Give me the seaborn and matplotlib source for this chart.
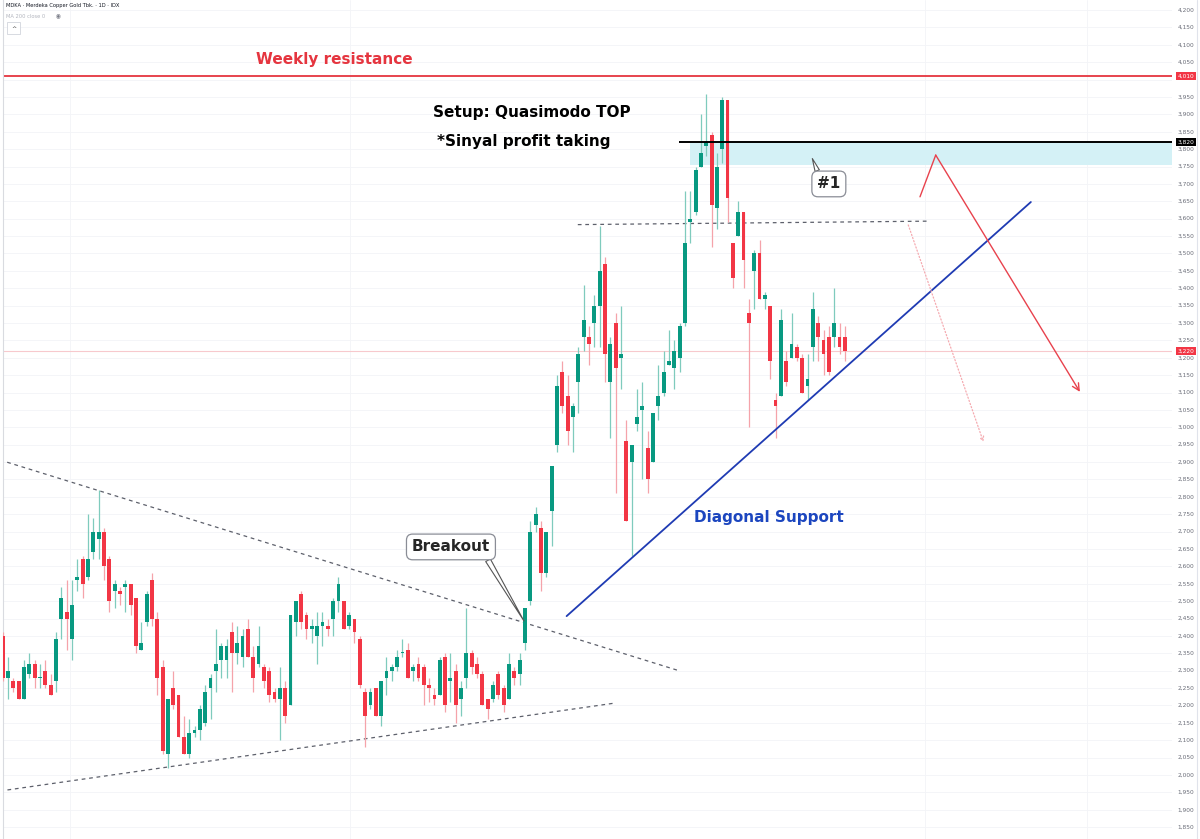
import numpy as np
import pandas as pd
import matplotlib
matplotlib.use("Agg")
import matplotlib.pyplot as plt
import seaborn as sns
from matplotlib.lines import Line2D
from matplotlib.patches import Rectangle

sns.set_style("white")
plt.rcParams['font.family'] = ['DejaVu Sans']

#%% Daily OHLC (MDKA, 1D)
opens = [2400, 2280, 2270, 2270, 2220, 2290, 2320, 2280, 2300, 2260,
         2270, 2450, 2470, 2390, 2560, 2620, 2570, 2640, 2680, 2700,
         2620, 2530, 2530, 2540, 2550, 2510, 2360, 2440, 2560, 2450,
         2310, 2060, 2250, 2230, 2110, 2060, 2120, 2130, 2150, 2250,
         2300, 2330, 2330, 2410, 2350, 2340, 2420, 2340, 2320, 2310,
         2300, 2240, 2220, 2250, 2200, 2440, 2520, 2460, 2420, 2400,
         2430, 2430, 2450, 2500, 2500, 2430, 2450, 2390, 2240, 2200,
         2250, 2170, 2280, 2300, 2310, 2350, 2360, 2300, 2320, 2310,
         2260, 2230, 2230, 2340, 2270, 2300, 2220, 2280, 2350, 2320,
         2290, 2220, 2220, 2290, 2250, 2220, 2300, 2290, 2380, 2500,
         2720, 2710, 2580, 2760, 2950, 3160, 3090, 3030, 3130, 3260,
         3260, 3300, 3350, 3470, 3130, 3300, 3200, 2960, 2900, 3010,
         3050, 2940, 2900, 3060, 3100, 3180, 3170, 3200, 3300, 3590,
         3620, 3750, 3810, 3840, 3630, 3800, 3940, 3530, 3550, 3620,
         3330, 3450, 3500, 3370, 3350, 3080, 3090, 3190, 3200, 3230,
         3200, 3120, 3230, 3300, 3250, 3260, 3260, 3260, 3260]
highs = [2410, 2340, 2280, 2270, 2330, 2350, 2330, 2320, 2330, 2290,
         2410, 2540, 2560, 2560, 2620, 2630, 2750, 2740, 2820, 2710,
         2630, 2560, 2540, 2560, 2550, 2510, 2440, 2530, 2580, 2470,
         2330, 2220, 2300, 2230, 2170, 2160, 2140, 2200, 2260, 2290,
         2420, 2380, 2390, 2440, 2430, 2420, 2450, 2370, 2430, 2320,
         2310, 2250, 2310, 2270, 2460, 2500, 2530, 2470, 2450, 2470,
         2470, 2450, 2510, 2570, 2500, 2470, 2450, 2400, 2250, 2250,
         2250, 2270, 2340, 2320, 2360, 2390, 2380, 2320, 2340, 2320,
         2280, 2250, 2340, 2350, 2350, 2320, 2270, 2480, 2360, 2340,
         2300, 2220, 2270, 2300, 2260, 2350, 2310, 2350, 2480, 2730,
         2770, 2730, 2700, 2890, 3150, 3190, 3150, 3070, 3230, 3410,
         3290, 3380, 3580, 3490, 3260, 3330, 3350, 3020, 2950, 3110,
         3130, 2990, 3040, 3180, 3220, 3280, 3250, 3300, 3680, 3680,
         3750, 3900, 3960, 3850, 3790, 3950, 3940, 3530, 3650, 3620,
         3370, 3510, 3540, 3390, 3350, 3100, 3340, 3220, 3330, 3240,
         3210, 3210, 3390, 3320, 3280, 3290, 3400, 3300, 3290]
lows = [2270, 2220, 2240, 2220, 2220, 2280, 2250, 2250, 2250, 2230,
        2240, 2390, 2360, 2330, 2530, 2510, 2560, 2620, 2620, 2560,
        2470, 2480, 2490, 2470, 2460, 2350, 2360, 2430, 2430, 2230,
        2060, 2020, 2190, 2110, 2060, 2050, 2110, 2100, 2140, 2160,
        2240, 2280, 2280, 2240, 2320, 2310, 2340, 2240, 2310, 2250,
        2210, 2210, 2100, 2150, 2200, 2400, 2420, 2390, 2380, 2320,
        2370, 2400, 2400, 2470, 2420, 2420, 2380, 2250, 2080, 2190,
        2170, 2140, 2230, 2270, 2300, 2340, 2280, 2270, 2270, 2200,
        2210, 2200, 2230, 2180, 2210, 2150, 2170, 2250, 2290, 2280,
        2200, 2160, 2210, 2220, 2180, 2220, 2260, 2260, 2360, 2490,
        2700, 2530, 2570, 2660, 2930, 3040, 2950, 2930, 3040, 3220,
        3180, 3230, 3230, 3130, 2970, 2810, 3110, 2730, 2630, 2990,
        2850, 2810, 2900, 3020, 3090, 3180, 3110, 3160, 3290, 3530,
        3610, 3750, 3780, 3520, 3570, 3760, 3590, 3400, 3550, 3400,
        3000, 3340, 3370, 3340, 3140, 2970, 3090, 3120, 3200, 3190,
        3100, 3080, 3190, 3190, 3150, 3150, 3230, 3210, 3190]
closes = [2280, 2300, 2250, 2220, 2310, 2320, 2280, 2280, 2260, 2230,
          2390, 2510, 2450, 2490, 2570, 2550, 2620, 2700, 2700, 2600,
          2500, 2550, 2520, 2550, 2490, 2370, 2380, 2520, 2450, 2280,
          2070, 2220, 2200, 2110, 2060, 2120, 2130, 2190, 2240, 2280,
          2320, 2370, 2370, 2350, 2380, 2400, 2340, 2280, 2370, 2270,
          2230, 2220, 2250, 2170, 2460, 2500, 2440, 2420, 2430, 2430,
          2440, 2420, 2500, 2550, 2420, 2460, 2410, 2260, 2170, 2240,
          2170, 2270, 2300, 2310, 2340, 2350, 2280, 2310, 2280, 2260,
          2250, 2220, 2330, 2200, 2280, 2200, 2250, 2350, 2310, 2290,
          2200, 2190, 2260, 2230, 2200, 2320, 2280, 2330, 2480, 2700,
          2750, 2580, 2700, 2890, 3120, 3060, 2990, 3060, 3210, 3310,
          3240, 3350, 3450, 3210, 3240, 3170, 3210, 2730, 2950, 3030,
          3060, 2850, 3040, 3090, 3160, 3190, 3220, 3290, 3530, 3600,
          3740, 3790, 3820, 3640, 3750, 3940, 3660, 3430, 3620, 3480,
          3300, 3500, 3370, 3380, 3190, 3060, 3310, 3130, 3240, 3200,
          3100, 3140, 3340, 3260, 3210, 3160, 3300, 3230, 3220]

# price scale
price_ticks = list(range(1850, 4201, 50))
y_range = (1816, 4229)
x_range = (0.06, 219.38)

# key levels
weekly_resistance = 4010
qm_level = 3820
zone_low = 3755
last_price = 3220
neckline = ([107.9, 174.0], [3583, 3593])

# drawn lines (bar index, price)
tri_upper = ([-0.5, 127.1], [2906, 2299])
tri_lower = ([-0.5, 114.9], [1954, 2207])
diag_support = ([105.8, 192.9], [2457, 3648])
red_path = ([172.1, 175.05, 202.1], [3663, 3783, 3102])
pink_path = ([169.9, 184.0], [3582, 2958])

GREEN = '#089981'
RED = '#f23645'
TXT_RED = '#e5353f'
BLUE_TXT = '#1c46bf'
BLUE_LINE = '#1f3bb3'

df = pd.DataFrame({'open': opens, 'high': highs, 'low': lows, 'close': closes})
df['idx'] = np.arange(len(df))
df['up'] = df['close'] >= df['open']
df['body_lo'] = df[['open', 'close']].min(axis=1)
df['body_h'] = (df['close'] - df['open']).abs().clip(lower=3)

#%% Figure
fig = plt.figure(figsize=(12, 8.39), dpi=100)
ax = fig.add_axes([3 / 1200, 0, 1169 / 1200, 1])
ax.set_xlim(*x_range)
ax.set_ylim(*y_range)

# faint grid
for p in price_ticks:
    ax.axhline(p, color='#f3f4f7', lw=0.6, zorder=0)
for gx in [12.6, 65.2, 173.0, 203.4]:
    ax.axvline(gx, color='#f3f4f7', lw=0.6, zorder=0)

# zone + levels
ax.add_patch(Rectangle((129.0, zone_low), x_range[1] - 129.0, qm_level - zone_low,
                       color='#d4f1f6', lw=0, zorder=1))
ax.axhline(weekly_resistance, color=TXT_RED, lw=1.3, zorder=2)
ax.axhline(last_price, color='#f7c9cd', lw=0.8, zorder=1)
ax.hlines(qm_level, 126.9, x_range[1], color='black', lw=1.4, zorder=4)

# candles
wick_cols = np.where(df['up'], '#7fcbbd', '#f5a3aa')
body_cols = np.where(df['up'], GREEN, RED)
ax.vlines(df['idx'], df['low'], df['high'], colors=wick_cols, lw=0.9, zorder=3)
ax.bar(df['idx'], df['body_h'], bottom=df['body_lo'], width=0.72,
       color=body_cols, lw=0, zorder=3)

# trend lines
dash = (0, (3, 3))
sns.lineplot(x=tri_upper[0], y=tri_upper[1], ax=ax, color='#5d606b', lw=0.9,
             linestyle=dash, sort=False, zorder=2)
sns.lineplot(x=tri_lower[0], y=tri_lower[1], ax=ax, color='#5d606b', lw=0.9,
             linestyle=dash, sort=False, zorder=2)
sns.lineplot(x=neckline[0], y=neckline[1], ax=ax, color='#5d606b', lw=0.9,
             linestyle=dash, sort=False, zorder=2)
sns.lineplot(x=diag_support[0], y=diag_support[1], ax=ax, color=BLUE_LINE, lw=1.3,
             sort=False, zorder=4)

# projected path arrows
ax.plot(red_path[0][:2], red_path[1][:2], color='#e8424d', lw=1.0, zorder=4)
ax.annotate('', xy=(red_path[0][2], red_path[1][2]), xytext=(red_path[0][1], red_path[1][1]),
            arrowprops=dict(arrowstyle='->,head_length=0.5,head_width=0.25',
                            color='#e8424d', lw=1.0, shrinkA=0, shrinkB=0), zorder=4)
ax.annotate('', xy=(pink_path[0][1], pink_path[1][1]), xytext=(pink_path[0][0], pink_path[1][0]),
            arrowprops=dict(arrowstyle='->,head_length=0.3,head_width=0.15',
                            color='#f5aab0', lw=0.9, linestyle=':', shrinkA=0, shrinkB=0), zorder=4)

# text annotations
ax.text(62.2, 4044, 'Weekly resistance', color=TXT_RED, fontsize=11, fontweight='bold',
        ha='center', va='baseline')
ax.text(80.7, 3893, 'Setup: Quasimodo TOP', color='black', fontsize=11, fontweight='bold',
        ha='left', va='baseline')
ax.text(81.4, 3809, '*Sinyal profit taking', color='black', fontsize=11, fontweight='bold',
        ha='left', va='baseline')
ax.text(143.8, 2727, 'Diagonal Support', color=BLUE_TXT, fontsize=11, fontweight='bold',
        ha='center', va='baseline')

ax.annotate('Breakout', xy=(97.8, 2443), xytext=(84.1, 2656), fontsize=11, fontweight='bold',
            ha='center', va='center', zorder=6,
            bbox=dict(boxstyle='round,pad=0.35,rounding_size=0.4', fc='white', ec='#8a8d96', lw=0.9),
            arrowprops=dict(arrowstyle='wedge,tail_width=0.35,shrink_factor=0.5', fc='white',
                            ec='#555', lw=0.8, relpos=(0.93, 0.0), shrinkA=0, shrinkB=0))
ax.annotate('#1', xy=(151.9, 3773), xytext=(155.0, 3700), fontsize=11, fontweight='bold',
            ha='center', va='center', zorder=6,
            bbox=dict(boxstyle='round,pad=0.35,rounding_size=0.4', fc='white', ec='#8a8d96', lw=0.9),
            arrowprops=dict(arrowstyle='wedge,tail_width=0.3,shrink_factor=0.5', fc='white',
                            ec='#555', lw=0.8, relpos=(0.1, 1.0), shrinkA=0, shrinkB=0))

# price scale on the right
tr = ax.get_yaxis_transform()
label_x = (1186 - 3) / 1169
boxed = {weekly_resistance: RED, qm_level: 'black', last_price: RED}
for p in price_ticks:
    if any(abs(p - b) < 15 for b in boxed):
        continue
    ax.text(label_x, p, f'{p:,}', transform=tr, fontsize=4.2, color='#6a6d78',
            ha='center', va='center', clip_on=False)
for p, c in boxed.items():
    ax.text(label_x, p, f'{p:,}', transform=tr, fontsize=4.2, color='white',
            ha='center', va='center', clip_on=False, zorder=7,
            bbox=dict(boxstyle='square,pad=0.25', fc=c, ec='none'))

for s in ['top', 'right', 'bottom']:
    ax.spines[s].set_visible(False)
ax.spines['left'].set_color('#d9dbe0')
ax.spines['left'].set_linewidth(0.8)
ax.set_xticks([])
ax.set_yticks([])
fig.add_artist(Line2D([1197 / 1200] * 2, [0, 1], color='#e0e3eb', lw=0.8))

# header
fig.text(6 / 1200, 1 - 6 / 839, 'MDKA · Merdeka Copper Gold Tbk. · 1D · IDX', fontsize=3.7,
         color='#131722', va='center')
fig.text(6 / 1200, 1 - 16 / 839, 'MA 200 close 0', fontsize=3.7, color='#b2b5be', va='center')
fig.text(58 / 1200, 1 - 16 / 839, '◉', fontsize=4, color='#787b86', va='center', ha='center')
fig.text(13.5 / 1200, 1 - 28 / 839, '^', fontsize=4.5, color='#333', va='center', ha='center',
         bbox=dict(boxstyle='square,pad=0.6', fc='white', ec='#d1d4dc', lw=0.6))

fig.savefig('out.png', dpi=100)
